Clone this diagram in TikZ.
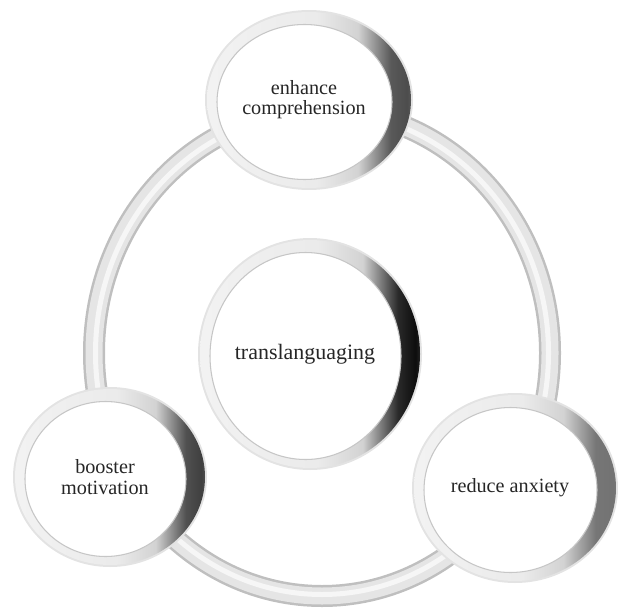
\documentclass[tikz,border=0pt]{standalone}
\usepackage{fontspec}
\setmainfont{Liberation Serif}

% rim of a bead: pale nearly all the way, dark only at the right edge
\pgfdeclarehorizontalshading[rimcol]{rim}{100bp}{
  color(0bp)=(gray!10); color(25bp)=(gray!10); color(52bp)=(gray!16);
  color(62bp)=(gray!35); color(70bp)=(rimcol!75!gray); color(74bp)=(rimcol);
  color(75bp)=(rimcol!80!gray); color(100bp)=(rimcol!80!gray)}

\tikzset{
  beadtext/.style={align=center, font=\fontsize{#1}{11.5}\selectfont, text=black!85},
  tube/.style={line width=#1},
}

\begin{document}
\begin{tikzpicture}
   \useasboundingbox (0,0) rectangle (12.36,12.2);

   % ring behind the beads
   \draw [tube=0.44cm, gray!50] (6.44,5.14) ellipse [x radius=4.56, y radius=4.86];
   \draw [tube=0.34cm, gray!20] (6.44,5.14) ellipse [x radius=4.56, y radius=4.86];
   \draw [tube=0.10cm, gray!7] (6.44,5.14) ellipse [x radius=4.53, y radius=4.83];

   % the four beads: name/x/y/x radius/y radius/rim shade/font size/text
   \foreach \nm/\x/\y/\rx/\ry/\dark/\fs/\txt in {
       comprehension/6.18/10.2/2.08/1.8/70/11.5/enhance\\comprehension,
       hub/6.2/5.12/2.24/2.32/95/12.5/translanguaging,
       motivation/2.2/2.66/1.94/1.8/75/11.5/booster\\motivation,
       anxiety/10.3/2.44/2.06/1.9/55/11.5/reduce anxiety}
   {
     \colorlet{rimcol}{black!\dark}
     \fill [gray!22] (\x,\y) ellipse [x radius=\rx, y radius=\ry];
     \shade [shading=rim] (\x,\y) ellipse [x radius=\rx-0.04, y radius=\ry-0.04];
     \filldraw [fill=white, draw=gray!45, line width=0.6pt] (\x-0.09,\y-0.04) ellipse [x radius=\rx-0.33, y radius=\ry-0.25];
     \node (\nm) [beadtext=\fs] at (\x-0.1,\y) {\txt};
   }
\end{tikzpicture}
\end{document}
